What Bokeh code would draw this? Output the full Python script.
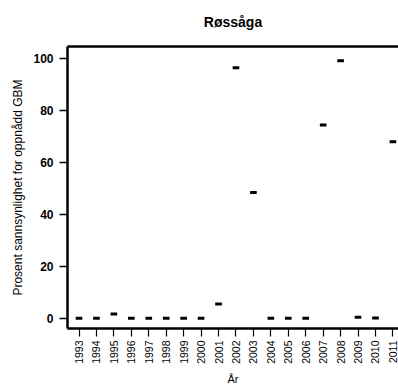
import math
from bokeh.plotting import figure
from bokeh.models import Range1d, FixedTicker, LinearAxis, ColumnDataSource
from bokeh.embed import file_html
from bokeh.resources import INLINE

years = list(range(1993, 2012))
values = [0.0, 0.0, 1.7, 0.0, 0.0, 0.0, 0.0, 0.0, 5.5, 96.3, 48.4,
          0.0, 0.0, 0.0, 74.3, 99.0, 0.45, 0.1, 67.9]
y_ticks = [0, 20, 40, 60, 80, 100]
title_text = "Røssåga"
x_label = "År"
y_label = "Prosent sannsynlighet for oppnådd GBM"

FONT = "Liberation Sans"

p = figure(width=398, height=387, output_backend="svg", toolbar_location=None,
           x_range=Range1d(1992.34, 2011.32), y_range=Range1d(-3.9, 104.5),
           min_border_left=67, min_border_right=0, min_border_top=45, min_border_bottom=58)
p.outline_line_color = None
p.xgrid.visible = False
p.ygrid.visible = False
p.background_fill_color = "white"
p.border_fill_color = "white"

p.title.text = title_text
p.title.align = "center"
p.title.text_font = FONT
p.title.text_font_size = "14px"
p.title.text_font_style = "bold"
p.title.text_color = "black"
p.title.offset = 4
p.title.standoff = 22

src = ColumnDataSource(dict(x=years, y=values))
p.rect(x="x", y="y", width=0.38, height=3, height_units="screen",
       fill_color="black", line_color=None, source=src)

xa = p.xaxis[0]
xa.ticker = FixedTicker(ticks=years)
xa.major_label_orientation = math.pi / 2
xa.major_label_text_font = FONT
xa.major_label_text_font_size = "10.5px"
xa.major_label_text_color = "black"
xa.major_label_standoff = 4
xa.axis_line_width = 2.5
xa.axis_line_color = "black"
xa.major_tick_line_width = 1.2
xa.major_tick_line_color = "black"
xa.major_tick_out = 8
xa.major_tick_in = 0
xa.minor_tick_line_color = None
xa.axis_label = x_label
xa.axis_label_text_font = FONT
xa.axis_label_text_font_size = "11px"
xa.axis_label_text_font_style = "normal"
xa.axis_label_text_color = "black"
xa.axis_label_standoff = 6

ya = p.yaxis[0]
ya.ticker = FixedTicker(ticks=y_ticks)
ya.major_label_text_font = FONT
ya.major_label_text_font_size = "12px"
ya.major_label_text_font_style = "bold"
ya.major_label_text_color = "black"
ya.major_label_standoff = 6
ya.axis_line_width = 2.5
ya.axis_line_color = "black"
ya.major_tick_line_width = 1.5
ya.major_tick_line_color = "black"
ya.major_tick_out = 8
ya.major_tick_in = 0
ya.minor_tick_line_color = None
ya.axis_label = y_label
ya.axis_label_text_font = FONT
ya.axis_label_text_font_size = "12px"
ya.axis_label_text_font_style = "normal"
ya.axis_label_text_color = "black"
ya.axis_label_standoff = 5

top = LinearAxis(axis_line_width=2.5, axis_line_color="black",
                 major_tick_line_color=None, minor_tick_line_color=None,
                 major_label_text_font_size="0px", major_label_text_color=None)
p.add_layout(top, "above")

open("out.html", "w").write(file_html(p, INLINE))
